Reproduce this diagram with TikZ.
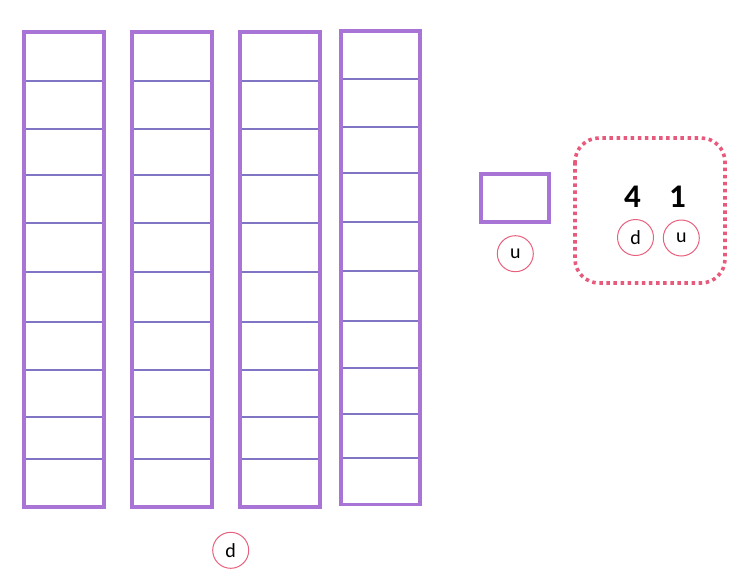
\documentclass[tikz,border=0pt]{standalone}
\usepackage{fontspec}
\setmainfont{Carlito}
\definecolor{outerp}{HTML}{A874D6}
\definecolor{innerp}{HTML}{8075C4}
\definecolor{pinkc}{HTML}{E8607E}
\definecolor{pinkd}{HTML}{E85A7C}
\begin{document}
\begin{tikzpicture}[x=1pt,y=-1pt,
  colbox/.style={draw=outerp,line width=3.8pt},
  rowline/.style={draw=innerp,line width=2.8pt},
  lbl/.style={circle,draw=pinkc,line width=1pt,minimum size=36pt,inner sep=0pt,font=\fontsize{20}{20}\selectfont},
  digit/.style={font=\fontsize{33}{33}\selectfont\bfseries,inner sep=0pt}]
\useasboundingbox (0,0) rectangle (747,584);
% columns
\foreach \xa/\xb in {24/104,132/212,240/320}{
  \foreach \yy in {81,129,175,223,272,322,370,417,459}{
    \draw[rowline] (\xa,\yy) -- (\xb,\yy);
  }
  \draw[colbox] (\xa,31.7) rectangle (\xb,507);
}
\foreach \yy in {79,127,173,222,271,321,368,414,458}{
  \draw[rowline] (341,\yy) -- (420,\yy);
}
\draw[colbox] (341,30.8) rectangle (420,504.5);
% unit
\draw[colbox,line width=3.2pt] (481,174) rectangle (549,222);
\node[lbl] (u1) at (515.3,253.7) {u};
\node[lbl] (d1) at (230.7,550.3) {d};
% result box
\draw[draw=pinkd,line width=3.6pt,dash pattern=on 3.5pt off 3.6pt,rounded corners=24pt] (575,138) rectangle (725,283);
\node[digit] (n4) at (632.5,197) {4};
\node[digit] (n1) at (677.5,197) {1};
\node[lbl] (d2) at (635.5,237.5) {d};
\node[lbl] (u2) at (681.3,238) {u};
\end{tikzpicture}
\end{document}
